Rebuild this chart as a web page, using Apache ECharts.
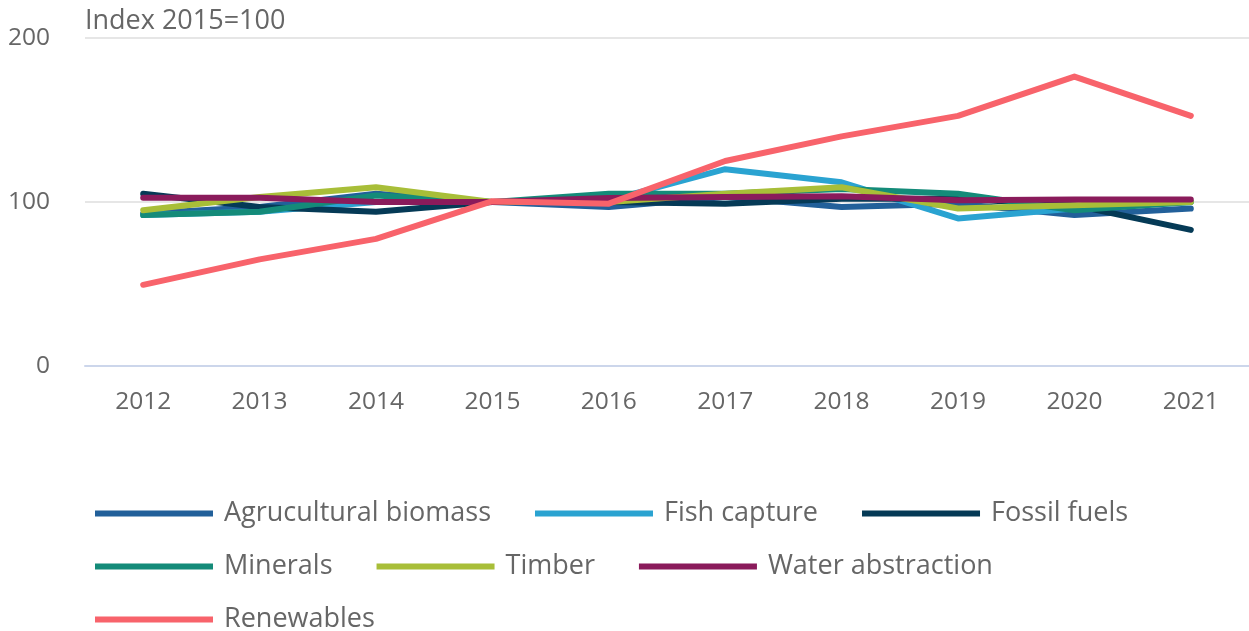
<!DOCTYPE html>
<html>
<head>
<meta charset="utf-8">
<script src="https://cdn.jsdelivr.net/npm/echarts@6/dist/echarts.min.js"></script>
<style>html,body{margin:0;padding:0;background:#fff;}#c{width:1249px;height:631px;}</style>
</head>
<body>
<div id="c"></div>
<script>
var years = ['2012','2013','2014','2015','2016','2017','2018','2019','2020','2021'];
var agricultural = [93, 97, 105, 100, 97, 103, 97, 99, 92, 96];
var fish = [92, 94, 100, 100, 101, 120, 112, 90, 96, 100];
var fossil = [105, 97, 94, 100, 100, 99, 102, 102, 98, 83];
var minerals = [92, 94, 104, 100, 105, 105, 108, 105, 95, 100];
var timber = [95, 103, 109, 100, 100, 105, 109, 96, 98, 100];
var water = [102.6, 102.6, 100, 100, 102.5, 103, 103.5, 101, 101.5, 101.5];
var renewables = [49.5, 65, 77.5, 100.5, 99, 125, 140, 152.5, 176.5, 152.5];
var yTicks = [0, 100, 200];

var names = ['Agrucultural biomass','Fish capture','Fossil fuels','Minerals','Timber','Water abstraction','Renewables'];
var values = [agricultural, fish, fossil, minerals, timber, water, renewables];
var colors = ['#22609a','#2aa3d1','#053a56','#148b79','#a8be38','#8a1b5b','#f8636b'];

var font = '"Open Sans", sans-serif';
var chart = echarts.init(document.getElementById('c'));
function legend(top, data){
  return {
    left: 95, top: top, orient: 'horizontal', data: data, padding: 0,
    itemWidth: 118, itemHeight: 6, itemGap: 44,
    icon: 'rect',
    textStyle: {fontFamily: font, fontSize: 27, color: '#666', padding: [0,0,0,6]}
  };
}
chart.setOption({
  animation: false,
  color: colors,
  textStyle: {fontFamily: font},
  title: {text: 'Index 2015=100', left: 80, top: 3,
    textStyle: {fontFamily: font, fontSize: 27, fontWeight: 'normal', color: '#666'}},
  legend: [
    legend(500, names.slice(0,3)),
    legend(553, names.slice(3,6)),
    legend(606, names.slice(6))
  ],
  grid: {left: 85, right: 0, top: 38, bottom: 631-366, containLabel: false},
  xAxis: {
    type: 'category', data: years, boundaryGap: true,
    axisLine: {lineStyle: {color: '#ccd6eb', width: 2}},
    axisTick: {alignWithLabel: true, length: 20, lineStyle: {color: '#ccd6eb', width: 2}},
    axisLabel: {fontFamily: font, fontSize: 24.5, color: '#666', margin: 24}
  },
  yAxis: {
    type: 'value', min: yTicks[0], max: yTicks[2], interval: 100,
    axisLine: {show: false}, axisTick: {show: false},
    splitLine: {lineStyle: {color: '#e6e6e6', width: 2}},
    axisLabel: {fontFamily: font, fontSize: 24.5, color: '#666', margin: 35}
  },
  series: names.map(function(n, i){
    return {
      name: n, type: 'line', data: values[i], symbol: 'none',
      lineStyle: {width: 6, cap: 'round', join: 'round', color: colors[i]},
      itemStyle: {color: colors[i]}
    };
  })
});
</script>
</body>
</html>
